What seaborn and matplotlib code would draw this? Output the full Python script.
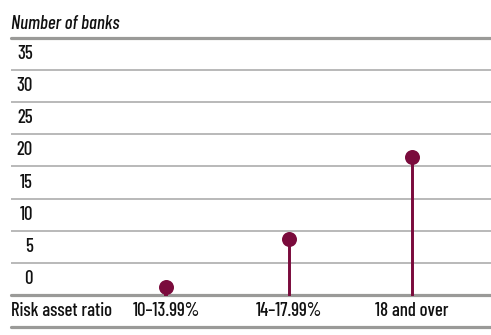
import matplotlib
matplotlib.use("Agg")
import matplotlib.pyplot as plt
import matplotlib.transforms as mtransforms
import seaborn as sns
import pandas as pd

# Number of banks by risk asset ratio band
categories = ["10\u201313.99%", "14\u201317.99%", "18 and over"]
banks = [1.3, 8.7, 21.5]
y_ticks = [0, 5, 10, 15, 20, 25, 30, 35]
y_title = "Number of banks"
x_title = "Risk asset ratio"

df = pd.DataFrame({"ratio": categories, "banks": banks})

sns.set_theme(style="white")
plt.rcParams["font.family"] = ["Barlow Condensed", "DejaVu Sans"]
plt.rcParams["font.stretch"] = "condensed"

maroon = "#7a0b3c"
grid_thin = "#a6a6a6"
grid_thick = "#9a9a98"
ink = "#111111"

fig = plt.figure(figsize=(4.91, 3.35), dpi=100)
ax = fig.add_axes([11 / 491, 8 / 335, 480 / 491, 289 / 335])

# stems as very narrow bars, heads as points
sns.barplot(data=df, x="ratio", y="banks", order=categories, width=0.01,
            color=maroon, saturation=1, edgecolor=maroon, linewidth=1.4,
            ax=ax, zorder=3)
sns.stripplot(data=df, x="ratio", y="banks", order=categories, jitter=False,
              color=maroon, size=10.8, linewidth=0, ax=ax, zorder=4)

ax.set_xlim(-1.26, 2.64)
ax.set_ylim(-5, 40)

# horizontal rules
for v in y_ticks[1:]:
    ax.axhline(v, color=grid_thin, lw=1.1, zorder=1)
for v in (40, 0, -5):
    ax.axhline(v, color=grid_thick, lw=2.3, zorder=2, clip_on=False)

for s in ax.spines.values():
    s.set_visible(False)
ax.set_xticks([])
ax.set_yticks([])
ax.set_xlabel("")
ax.set_ylabel("")

font = dict(fontsize=13.5, color=ink, fontweight="medium")
trans = mtransforms.blended_transform_factory(ax.transAxes, ax.transData)
for v in y_ticks:
    ax.text(0.0458, v + 2.5, str(v), transform=trans, ha="right", va="center",
            **font)

for i, c in enumerate(categories):
    ax.text(i, -2.5, c, ha="center", va="center", **font)
ax.text(0.0, -2.5, x_title, transform=trans, ha="left", va="center", **font)

fig.text(11 / 491, 1 - 24 / 335, y_title, ha="left", va="center",
         style="italic", **font)

fig.savefig("out.png", dpi=100)
